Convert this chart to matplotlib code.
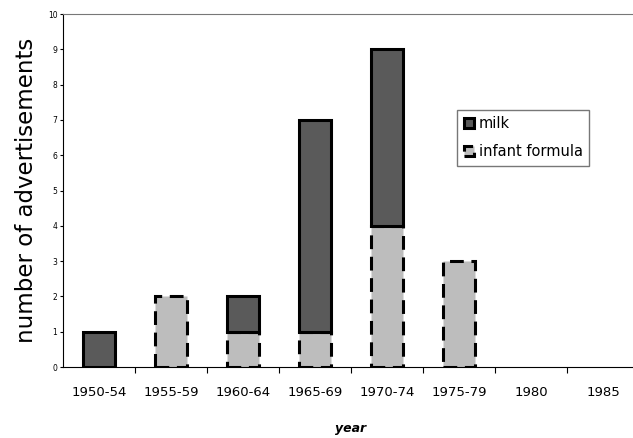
import numpy as np
import matplotlib
matplotlib.use('Agg')
import matplotlib.pyplot as plt

# data
periods = ['1950-54', '1955-59', '1960-64', '1965-69', '1970-74', '1975-79', '1980', '1985']
formula = [0, 2, 1, 1, 4, 3, 0, 0]
milk = [1, 0, 1, 6, 5, 0, 0, 0]

fig = plt.figure(figsize=(6.33, 4.38), dpi=100)
ax = fig.add_axes([0.0995, 0.162, 0.91, 0.806])

x = np.arange(len(periods))
f = np.array(formula)
m = np.array(milk)
w = 0.45

# skip empty segments so no outline is drawn at zero
fm = f > 0
mm = m > 0
ax.bar(x[fm], f[fm], width=w, color='#bdbdbd', edgecolor='black',
       linewidth=2.2, linestyle=(0, (4.5, 2.5)), label='infant formula', zorder=2)
ax.bar(x[mm], m[mm], width=w, bottom=f[mm], color='#5a5a5a', edgecolor='black',
       linewidth=2.2, label='milk', zorder=3)

ax.set_xlim(-0.5, 7.5)
ax.set_ylim(0, 10)
ax.set_yticks(range(0, 11))
ax.tick_params(axis='y', labelsize=5.5, length=2, width=0.8, pad=2)
ax.set_xticks(x)
ax.set_xticklabels(periods, fontsize=9.5)
ax.set_xticks(np.arange(0.5, 7.5, 1), minor=True)
ax.tick_params(axis='x', which='major', length=0, pad=14)
ax.tick_params(axis='x', which='minor', length=4, width=0.8)

ax.spines['right'].set_visible(False)
ax.spines['top'].set_color('#777777')
ax.spines['top'].set_linewidth(0.8)

ax.set_ylabel('number of advertisements', fontsize=16.5, labelpad=7)
ax.set_xlabel('year', fontsize=9, fontweight='bold', fontstyle='italic', labelpad=16)

h, l = ax.get_legend_handles_labels()
ax.legend(h[::-1], l[::-1], loc='upper left', bbox_to_anchor=(0.672, 0.75),
          fontsize=10.5, frameon=True, fancybox=False, edgecolor='#555555',
          handlelength=0.7, handleheight=0.7, handletextpad=0.3,
          borderpad=0.45, labelspacing=0.9)

fig.savefig('out.png', dpi=100)
